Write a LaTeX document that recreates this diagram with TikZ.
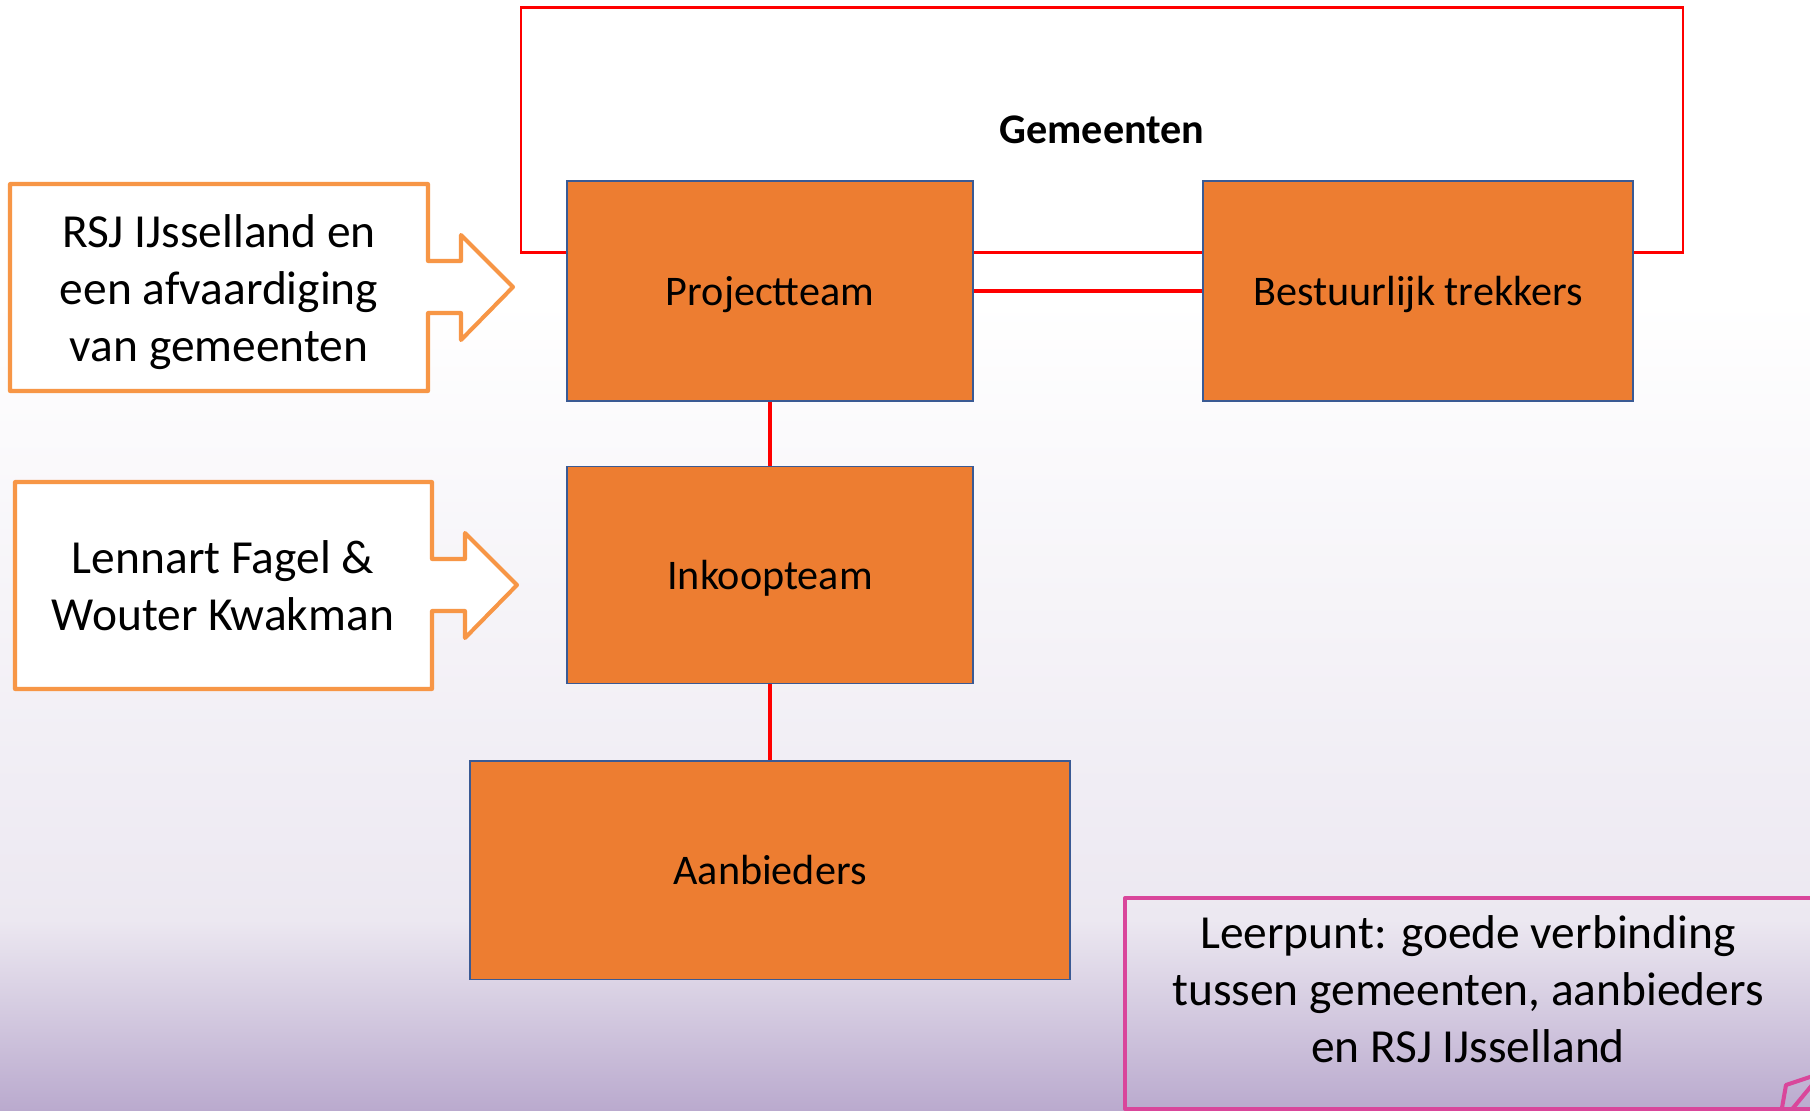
\documentclass[tikz,border=0pt]{standalone}
\usepackage{fontspec}
\setmainfont{Carlito}
\definecolor{boxorange}{HTML}{ED7D31}
\definecolor{boxblue}{HTML}{3A5A94}
\definecolor{callorange}{HTML}{F79646}
\definecolor{leerpink}{HTML}{D9469B}
\definecolor{bgmid}{HTML}{ECE8F1}
\definecolor{bgbottom}{HTML}{BAAACE}
\begin{document}
\begin{tikzpicture}[
    x=0.02cm, y=-0.02cm,
    team/.style={rectangle, fill=boxorange, draw=boxblue, line width=1.1pt, minimum height=4.4cm, text depth=0pt, font=\fontsize{24}{29}\selectfont},
    gemframe/.style={rectangle, draw=red, line width=1.2pt, font=\bfseries\fontsize{24}{29}\selectfont},
    callout/.style={fill=white, draw=callorange, line width=2.3pt, line join=round},
    calltext/.style={align=center, font=\fontsize{27}{32.4}\selectfont},
    link/.style={draw=red, line width=1.9pt},
    pinkline/.style={draw=leerpink, line width=2.3pt, line join=round}
]
\useasboundingbox (0,0) rectangle (1810,1110);

% Background
\fill[white] (0,0) rectangle (1810,300);
\shade[top color=white, bottom color=bgmid] (0,299) rectangle (1810,921);
\shade[top color=bgmid, bottom color=bgbottom] (0,920) rectangle (1810,1110);

% Gemeenten
\node[gemframe, minimum width=23.26cm, minimum height=4.9cm] (gem) at (1102,130) {Gemeenten};

% Teams
\node[team, minimum width=8.12cm] (proj) at (770,291) {Projectteam};
\node[team, minimum width=8.6cm] (bestuur) at (1418,291) {Bestuurlijk trekkers};
\node[team, minimum width=8.12cm, minimum height=4.34cm] (inkoop) at (770,575) {Inkoopteam};
\node[team, minimum width=12cm, minimum height=4.38cm] (aanb) at (770,870) {Aanbieders};

\draw[link, line width=2.3pt] (proj) -- (bestuur);
\draw[link] (proj) -- (inkoop);
\draw[link] (inkoop) -- (aanb);

% Callouts
\draw[callout] (10,184) -- (428,184) -- (428,261) -- (461,261) -- (461,235) -- (513,287)
    -- (461,340) -- (461,313) -- (428,313) -- (428,391) -- (10,391) -- cycle;
\node[calltext] (rsj) at (219,292) {RSJ IJsselland en\\een afvaardiging\\van gemeenten};

\draw[callout] (15,482) -- (432,482) -- (432,559) -- (465,559) -- (465,533) -- (517,585)
    -- (465,638) -- (465,611) -- (432,611) -- (432,689) -- (15,689) -- cycle;
\node[calltext] (lennart) at (223,586) {Lennart Fagel \&\\Wouter Kwakman};

% Leerpunt
\begin{scope}
\clip (0,0) rectangle (1810,1110);
\draw[pinkline] (1125,898) rectangle (1830,1109);
\draw[pinkline] (1786,1085) -- (1822,1073) -- (1779,1125) -- cycle;
\end{scope}
\node[calltext] (leer) at (1468,989) {Leerpunt: goede verbinding\\tussen gemeenten, aanbieders\\en RSJ IJsselland};

\end{tikzpicture}
\end{document}
